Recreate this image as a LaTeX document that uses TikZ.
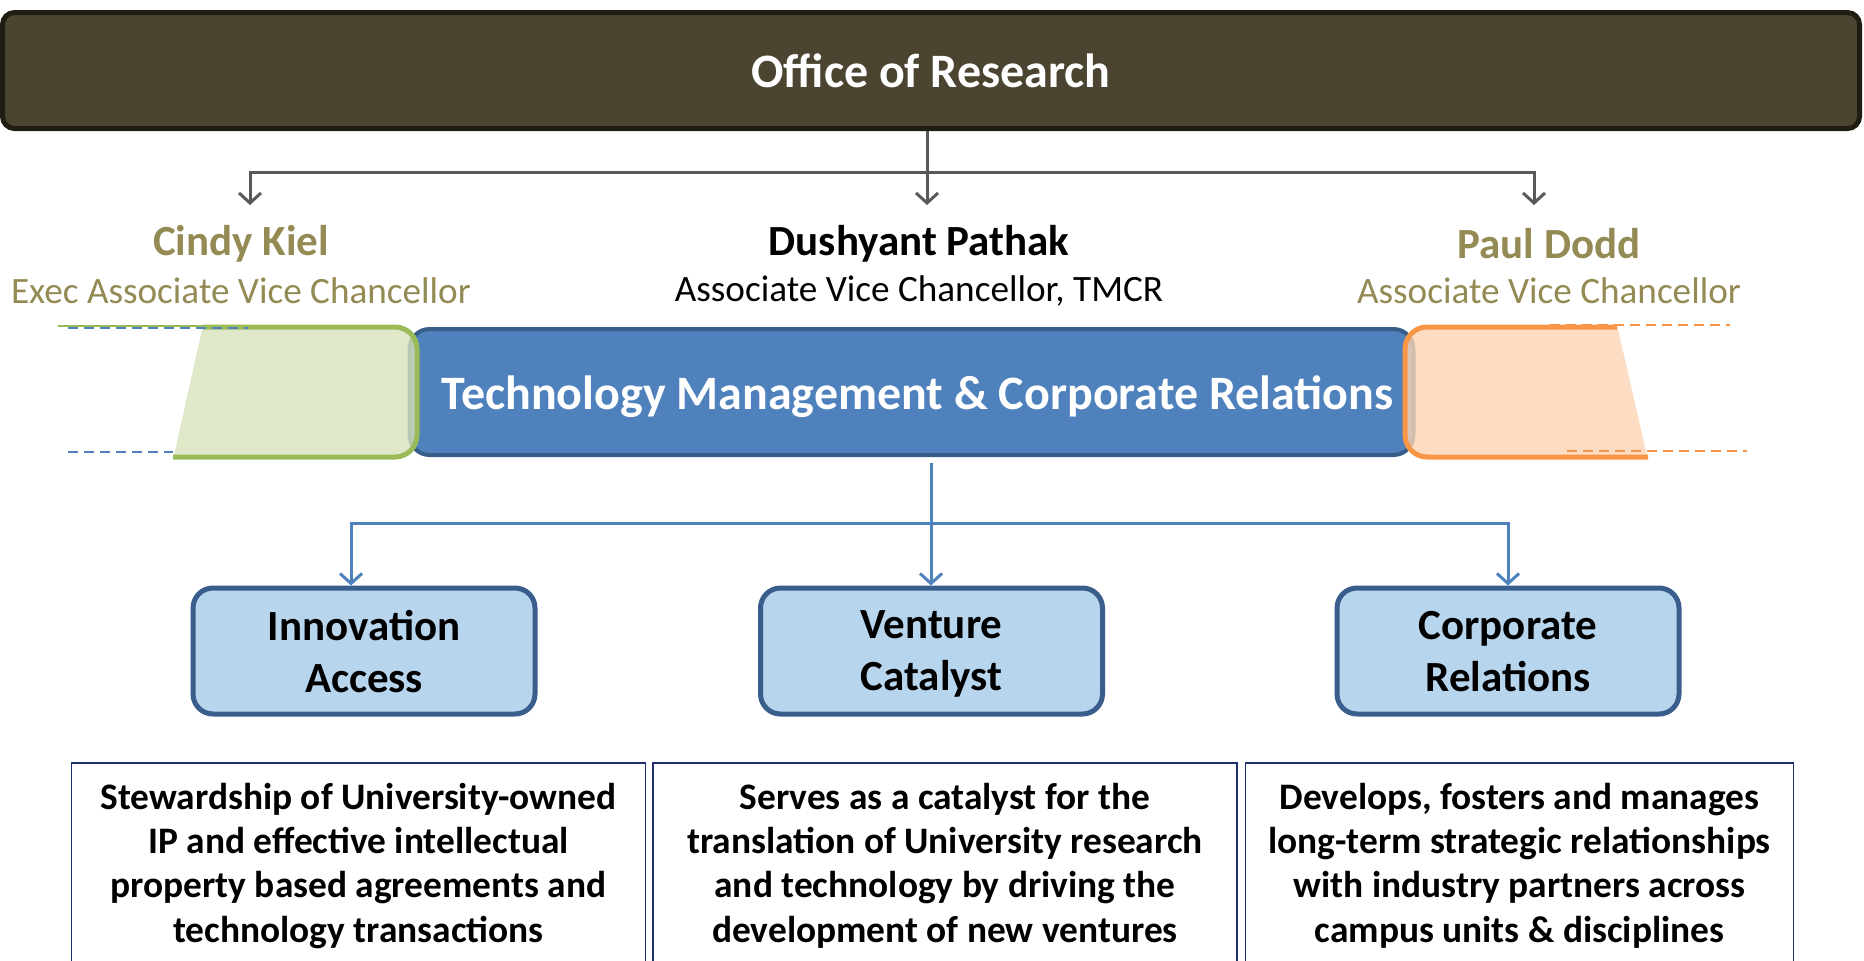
\documentclass[tikz,border=0pt]{standalone}
\usepackage{fontspec}
\setmainfont{Carlito}
\usepackage{xcolor}
\usepackage{tikz}
\usetikzlibrary{arrows.meta, positioning, calc}

\definecolor{barolive}{HTML}{4A4430}
\definecolor{bardark}{HTML}{1F1C12}
\definecolor{linkgrey}{HTML}{595959}
\definecolor{goldname}{HTML}{948A54}
\definecolor{tmcrblue}{HTML}{4F81BD}
\definecolor{tmcredge}{HTML}{385D8A}
\definecolor{unitfill}{HTML}{B8D5EE}
\definecolor{unitedge}{HTML}{3A5E8C}
\definecolor{leafgreen}{HTML}{9BBB59}
\definecolor{leafgreenfill}{HTML}{D7E4BD}
\definecolor{leaforange}{HTML}{F79646}
\definecolor{leaforangefill}{HTML}{FBD5B5}
\definecolor{descedge}{HTML}{1F2F6F}

\begin{document}
\begin{tikzpicture}[
    x=0.5pt, y=-0.5pt,
    topbar/.style={rectangle, rounded corners=6pt, draw=bardark, line width=2.5pt, fill=barolive, minimum width=928.5pt, minimum height=58pt, text=white, font=\fontsize{24}{28}\selectfont\bfseries},
    person/.style={font=\fontsize{21.5}{25}\selectfont\bfseries},
    role/.style={font=\fontsize{18.6}{22}\selectfont},
    tmcrbox/.style={rectangle, rounded corners=10pt, draw=tmcredge, line width=2pt, fill=tmcrblue, minimum width=502pt, minimum height=63pt, text=white, text height=22pt, text depth=5pt, font=\fontsize{24}{28}\selectfont\bfseries},
    unit/.style={rectangle, rounded corners=10pt, draw=unitedge, line width=2.5pt, fill=unitfill, minimum width=171pt, minimum height=63pt, align=center, text depth=0pt, font=\fontsize{21.5}{26}\selectfont\bfseries},
    desc/.style={rectangle, draw=descedge, line width=0.8pt, minimum width=287pt, anchor=north, align=center, inner ysep=10pt, text depth=50pt, font=\fontsize{18.7}{22.2}\selectfont\bfseries},
    greyarrow/.style={draw=linkgrey, line width=1.5pt, -{Straight Barb[length=5pt, width=11pt]}},
    greyline/.style={draw=linkgrey, line width=1.5pt},
    bluearrow/.style={draw=tmcrblue, line width=1.5pt, -{Straight Barb[length=5pt, width=11pt]}},
    blueline/.style={draw=tmcrblue, line width=1.5pt},
    guide/.style={line width=0.6pt, dash pattern=on 5pt off 3pt}
]
\useasboundingbox (0,0) rectangle (1864,960);

% Office on top
\node[topbar] (office) at (931,70.5) {Office of Research};

% People
\node[person, text=goldname] (kiel) at (241,244) {Cindy Kiel};
\node[role, text=goldname] (kielrole) at (241,291) {Exec Associate Vice Chancellor};
\node[person] (pathak) at (919,244) {Dushyant Pathak};
\node[role] (pathakrole) at (919,291) {Associate Vice Chancellor, TMCR};
\node[person, text=goldname] (dodd) at (1549,244) {Paul Dodd};
\node[role, text=goldname] (doddrole) at (1549,291) {Associate Vice Chancellor};

% Grey links
\coordinate (topjoin) at (927,172);
\coordinate (kielin) at (250,205);
\coordinate (pathakin) at (927,205);
\coordinate (doddin) at (1534,205);
\draw[greyline] (topjoin |- office.south) -- (topjoin);
\draw[greyarrow] (topjoin) -| (kielin);
\draw[greyarrow] (topjoin) -- (pathakin);
\draw[greyarrow] (topjoin) -| (doddin);

% TMCR
\node[tmcrbox] (tmcr) at (911.5,392) {\hspace{6pt}Technology Management \& Corporate Relations};

% Left panel
\begin{scope}
  \clip (203,325) -- (440,325) -- (440,460) -- (173,460) -- cycle;
  \fill[leafgreenfill, fill opacity=0.8, rounded corners=11pt] (150,327) rectangle (417,457);
\end{scope}
\draw[leafgreen, line width=2.5pt, rounded corners=11pt] (203,327) -- (417,327) -- (417,457) -- (173,457);
\draw[leafgreen, line width=0.8pt] (58,326) -- (203,326);
\draw[guide, tmcrblue] (68,328) -- (248,328);
\draw[guide, tmcrblue] (68,452) -- (173,452);

% Right panel
\begin{scope}
  \clip (1390,325) -- (1617,325) -- (1648,460) -- (1390,460) -- cycle;
  \fill[leaforangefill, fill opacity=0.8, rounded corners=11pt] (1405,327) rectangle (1700,457);
\end{scope}
\draw[leaforange, line width=2.5pt, rounded corners=11pt] (1617,327) -- (1405,327) -- (1405,457) -- (1648,457);
\draw[guide, leaforange] (1550,325) -- (1730,325);
\draw[guide, leaforange] (1567,451) -- (1747,451);

% Units
\node[unit] (access) at (364,651) {Innovation\\Access};
\node[unit] (venture) at (931.5,651) {Venture\\Catalyst};
\node[unit] (corporate) at (1508,651) {Corporate\\Relations};

% Blue links
\coordinate (splitjoin) at (931,523);
\draw[blueline] ([yshift=-3pt]tmcr.south -| splitjoin) -- (splitjoin);
\draw[bluearrow] (splitjoin) -| ([xshift=-6.5pt]access.north);
\draw[bluearrow] (splitjoin) -- (splitjoin |- venture.north);
\draw[bluearrow] (splitjoin) -| (corporate.north);

% Descriptions
\node[desc] (accessdesc) at (358.5,762) {Stewardship of University-owned\\IP and effective intellectual\\property based agreements and\\technology transactions};
\node[desc, minimum width=292pt] (venturedesc) at (945,762) {Serves as a catalyst for the\\translation of University research\\and technology by driving the\\development of new ventures};
\node[desc, minimum width=274pt] (corporatedesc) at (1519.5,762) {Develops, fosters and manages\\long-term strategic relationships\\with industry partners across\\campus units \& disciplines};

\end{tikzpicture}
\end{document}
